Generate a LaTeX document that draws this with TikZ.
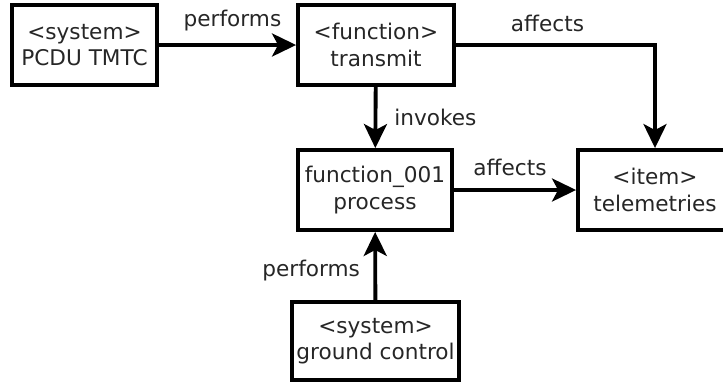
\documentclass[tikz,border=0pt]{standalone}
\usepackage{fontspec}
\setmainfont{DejaVu Sans}
\usepackage{tikz}
\usetikzlibrary{arrows.meta}

\tikzset{
  block/.style={draw, line width=2.2pt, minimum height=1.6cm, align=center, inner sep=0pt},
  link/.style={line width=2.2pt, -{Stealth[length=0.48cm,width=0.46cm,inset=0.12cm]}}
}

\begin{document}
\begin{tikzpicture}[font=\fontsize{12.3}{15}\selectfont, text=black!85]
\useasboundingbox (0,0) rectangle (14.46,-7.64);

\node[block, minimum width=2.9cm] (pcdu) at (1.69,-0.9) {<system>\\PCDU TMTC};

\node[block, minimum width=3.12cm] (transmit) at (7.52,-0.9) {<function>\\transmit};

\node[block, minimum width=3.08cm] (process) at (7.5,-3.8) {function\_001\\process};

\node[block, minimum width=3.08cm] (telem) at (13.1,-3.8) {<item>\\telemetries};

\node[block, minimum width=3.34cm, minimum height=1.56cm] (ground) at (7.51,-6.82) {<system>\\ground control};

\draw[link] (pcdu) -- (transmit) node[midway, anchor=south, yshift=0.12cm, xshift=0.1cm] {performs};

\draw[link] (transmit) -| (telem) node[pos=0.23, anchor=south, yshift=0.1cm] {affects};

\draw[link] (transmit) -- (process) node[midway, anchor=west, xshift=0.22cm] {invokes};

\draw[link] (process) -- (telem) node[midway, anchor=south, yshift=0.12cm, xshift=-0.1cm] {affects};

\draw[link] (ground) -- (process) node[midway, anchor=east, xshift=-0.15cm, yshift=-0.1cm] {performs};
\end{tikzpicture}
\end{document}
